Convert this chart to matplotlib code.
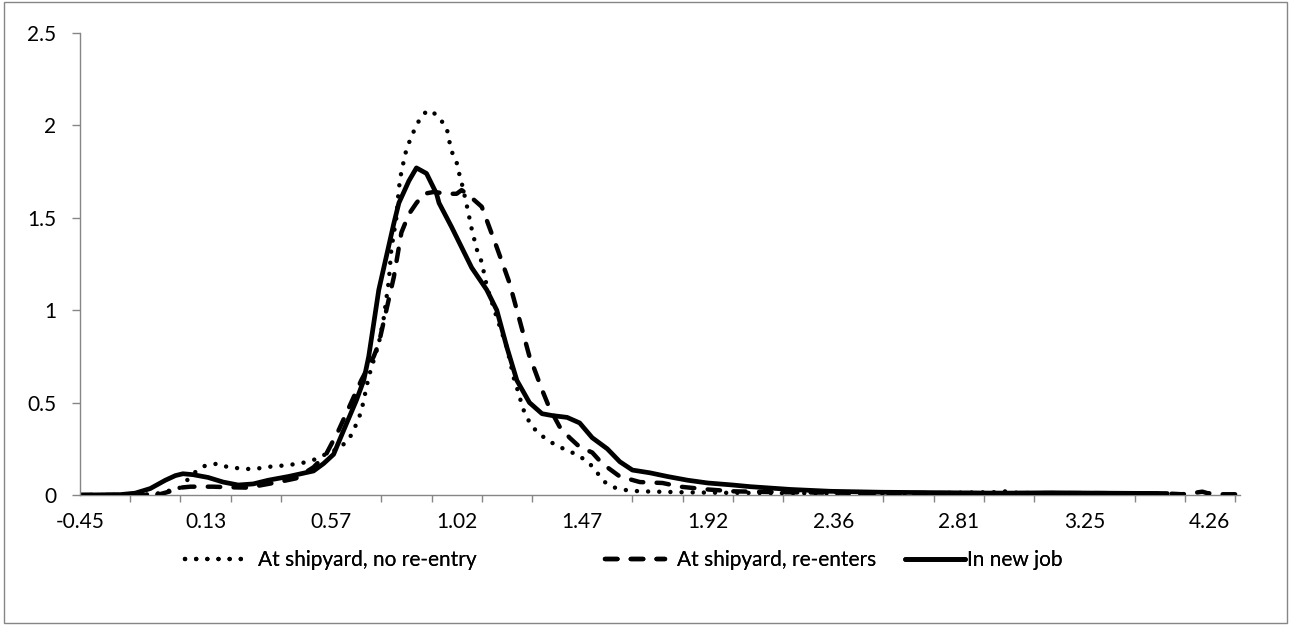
import matplotlib
matplotlib.use("Agg")
import matplotlib.pyplot as plt
from matplotlib.lines import Line2D
from matplotlib.patches import Rectangle

plt.rcParams['font.family'] = ['Lato', 'DejaVu Sans']

# category axis: one label every 50 categories, one tick mark every 20
tick_labels = ['-0.45', '0.13', '0.57', '1.02', '1.47', '1.92', '2.36', '2.81', '3.25', '4.26']
label_step = 50
tick_step = 20
last_category = 462

series_names = ['At shipyard, no re-entry', 'At shipyard, re-enters', 'In new job']

# At shipyard, no re-entry (dotted)
no_reentry_idx = [0, 24, 32, 36, 40, 43, 46, 50, 55, 59, 63, 68, 73, 77, 82, 87, 91, 95, 99,
                  103, 107, 109, 112, 115, 119, 121, 123, 124, 126, 127, 128, 129, 130, 132,
                  134, 136, 138, 140, 143, 146, 147, 148, 150, 151, 152, 154, 156, 158, 160,
                  162, 166, 170, 173, 175, 176, 178, 180, 184, 187, 191, 196, 200, 203, 206,
                  209, 213, 218, 223, 239, 255, 287, 327, 364, 369, 373, 387, 433]
no_reentry_val = [0, 0, 0.01, 0.025, 0.04, 0.085, 0.125, 0.16, 0.17, 0.15, 0.145, 0.14, 0.147,
                  0.156, 0.16, 0.17, 0.18, 0.2, 0.23, 0.25, 0.3, 0.35, 0.45, 0.64, 0.82, 0.96,
                  1.16, 1.33, 1.5, 1.66, 1.75, 1.81, 1.87, 1.94, 2.0, 2.05, 2.075, 2.08, 2.04,
                  1.99, 1.92, 1.86, 1.8, 1.74, 1.69, 1.57, 1.44, 1.33, 1.26, 1.13, 0.96, 0.8,
                  0.62, 0.54, 0.48, 0.42, 0.37, 0.32, 0.29, 0.26, 0.23, 0.2, 0.17, 0.12, 0.07,
                  0.04, 0.025, 0.02, 0.015, 0.012, 0.01, 0.008, 0.015, 0.02, 0.012, 0.008, 0.005]

# At shipyard, re-enters (dashed)
reenters_idx = [0, 28, 32, 36, 40, 44, 53, 59, 66, 71, 79, 86, 93, 98, 103, 108, 112, 117, 119,
                122, 125, 128, 131, 134, 137, 141, 146, 150, 152, 155, 160, 166, 171, 175, 179,
                181, 184, 187, 191, 195, 199, 204, 208, 215, 223, 232, 239, 250, 260, 279, 307,
                347, 407, 433, 439, 443, 447, 449, 455, 461]
reenters_val = [0, 0, 0.005, 0.02, 0.04, 0.045, 0.045, 0.042, 0.04, 0.05, 0.07, 0.09, 0.15,
                0.22, 0.35, 0.5, 0.62, 0.75, 0.82, 1.0, 1.18, 1.42, 1.52, 1.58, 1.63, 1.64,
                1.63, 1.63, 1.65, 1.62, 1.56, 1.34, 1.15, 0.95, 0.75, 0.68, 0.57, 0.47, 0.37,
                0.31, 0.26, 0.23, 0.17, 0.1, 0.07, 0.065, 0.045, 0.03, 0.02, 0.015, 0.012,
                0.01, 0.01, 0.008, 0.004, 0.01, 0.018, 0.01, 0.004, 0.004]

# In new job (solid)
new_job_idx = [0, 16, 22, 28, 34, 38, 41, 45, 51, 57, 63, 69, 75, 83, 93, 97, 101, 105, 110,
               113, 115, 117, 119, 122, 125, 127, 131, 134, 138, 142, 143, 148, 152, 156, 162,
               166, 170, 174, 179, 184, 188, 194, 199, 204, 210, 215, 220, 227, 234, 242, 250,
               260, 267, 283, 299, 319, 347, 367, 387, 407, 433]
new_job_val = [0, 0.002, 0.01, 0.035, 0.08, 0.105, 0.115, 0.11, 0.095, 0.07, 0.054, 0.06, 0.08,
               0.1, 0.13, 0.17, 0.22, 0.35, 0.51, 0.62, 0.75, 0.93, 1.11, 1.29, 1.47, 1.58,
               1.7, 1.77, 1.74, 1.63, 1.58, 1.45, 1.34, 1.23, 1.11, 1.0, 0.8, 0.62, 0.5, 0.44,
               0.43, 0.42, 0.39, 0.31, 0.25, 0.18, 0.135, 0.12, 0.1, 0.08, 0.065, 0.054, 0.045,
               0.03, 0.02, 0.015, 0.012, 0.01, 0.012, 0.01, 0.008]

y_ticks = [0, 0.5, 1, 1.5, 2, 2.5]
y_tick_labels = ['0', '0.5', '1', '1.5', '2', '2.5']

W, H = 1289, 625
fig = plt.figure(figsize=(W / 100, H / 100), dpi=100)
ax = fig.add_axes([80 / W, 1 - 495 / H, (1240 - 80) / W, (495 - 33) / H])

axis_grey = '#868686'
fs = 15
dotted = dict(color='black', lw=3.2, linestyle=(0, (0.01, 2.5)), dash_capstyle='round')
dashed = dict(color='black', lw=3.2, linestyle=(0, (2.8, 3.0)), dash_capstyle='round')
solid = dict(color='black', lw=3.4, linestyle='-', solid_capstyle='round', solid_joinstyle='round')

ax.plot(no_reentry_idx, no_reentry_val, **dotted)
ax.plot(reenters_idx, reenters_val, **dashed)
ax.plot(new_job_idx, new_job_val, **solid)

ax.set_xlim(0, last_category)
ax.set_ylim(0, 2.5)

ax.set_xticks([i * label_step for i in range(len(tick_labels))])
ax.set_xticklabels(tick_labels)
ax.set_xticks(list(range(0, last_category + 1, tick_step)), minor=True)
ax.tick_params(axis='x', which='major', length=0, pad=12, labelsize=fs)
ax.tick_params(axis='x', which='minor', length=5, width=1, color=axis_grey, direction='out')

ax.set_yticks(y_ticks)
ax.set_yticklabels(y_tick_labels)
ax.tick_params(axis='y', length=6, width=1, color=axis_grey, direction='out', pad=11, labelsize=fs)

for side in ['top', 'right']:
    ax.spines[side].set_visible(False)
for side in ['left', 'bottom']:
    ax.spines[side].set_color(axis_grey)
    ax.spines[side].set_linewidth(1)
ax.spines['bottom'].set_zorder(0)

# legend entries placed one by one, like the Excel legend
handles = [Line2D([], [], **dotted), Line2D([], [], **dashed), Line2D([], [], **solid)]
starts = [185, 605, 905]
pads = [0.6, 0.55, 0.1]
for h, name, x0, pad in zip(handles, series_names, starts, pads):
    leg = fig.legend([h], [name], loc='center left', bbox_to_anchor=(x0 / W, 1 - 560 / H),
                     frameon=False, fontsize=fs, handlelength=2.9, handletextpad=pad,
                     borderpad=0, borderaxespad=0)
    fig.add_artist(leg)

fig.patches.append(Rectangle((4 / W, 2 / H), (1287 - 4) / W, (623 - 2) / H,
                             transform=fig.transFigure, fill=False,
                             edgecolor=axis_grey, lw=1))

fig.savefig('out.png', dpi=100)
